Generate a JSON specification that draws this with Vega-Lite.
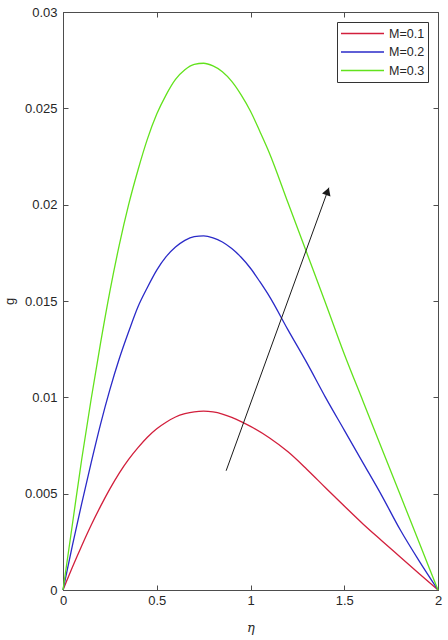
{
  "$schema": "https://vega.github.io/schema/vega-lite/v6.json",
  "width": 375,
  "height": 578,
  "autosize": {"type": "none"},
  "padding": {"left": 63, "top": 12, "right": 10, "bottom": 50},
  "background": "white",
  "config": {
    "view": {"stroke": "#4d4d4d", "strokeWidth": 1},
    "font": "Liberation Sans",
    "axis": {
      "grid": false,
      "domainColor": "#4d4d4d",
      "tickColor": "#4d4d4d",
      "labelColor": "#262626",
      "titleColor": "#262626",
      "labelFontSize": 13,
      "labelFont": "Liberation Sans",
      "tickSize": -5,
      "labelFlush": false
    }
  },
  "datasets": {
    "curves": [
      {"M": "M=0.1", "eta": 0, "g": 0},
      {"M": "M=0.1", "eta": 0.05, "g": 0.00118},
      {"M": "M=0.1", "eta": 0.1, "g": 0.0023},
      {"M": "M=0.1", "eta": 0.15, "g": 0.00336},
      {"M": "M=0.1", "eta": 0.2, "g": 0.00434},
      {"M": "M=0.1", "eta": 0.25, "g": 0.00525},
      {"M": "M=0.1", "eta": 0.3, "g": 0.00607},
      {"M": "M=0.1", "eta": 0.35, "g": 0.00678},
      {"M": "M=0.1", "eta": 0.4, "g": 0.00739},
      {"M": "M=0.1", "eta": 0.45, "g": 0.00793},
      {"M": "M=0.1", "eta": 0.5, "g": 0.00837},
      {"M": "M=0.1", "eta": 0.55, "g": 0.00871},
      {"M": "M=0.1", "eta": 0.6, "g": 0.00898},
      {"M": "M=0.1", "eta": 0.65, "g": 0.00915},
      {"M": "M=0.1", "eta": 0.7, "g": 0.00925},
      {"M": "M=0.1", "eta": 0.75, "g": 0.00928},
      {"M": "M=0.1", "eta": 0.8, "g": 0.00924},
      {"M": "M=0.1", "eta": 0.85, "g": 0.00913},
      {"M": "M=0.1", "eta": 0.9, "g": 0.00896},
      {"M": "M=0.1", "eta": 0.95, "g": 0.00874},
      {"M": "M=0.1", "eta": 1.0, "g": 0.00849},
      {"M": "M=0.1", "eta": 1.1, "g": 0.0079},
      {"M": "M=0.1", "eta": 1.2, "g": 0.00717},
      {"M": "M=0.1", "eta": 1.3, "g": 0.00627},
      {"M": "M=0.1", "eta": 1.4, "g": 0.00531},
      {"M": "M=0.1", "eta": 1.5, "g": 0.00436},
      {"M": "M=0.1", "eta": 1.6, "g": 0.00343},
      {"M": "M=0.1", "eta": 1.7, "g": 0.00256},
      {"M": "M=0.1", "eta": 1.8, "g": 0.0017},
      {"M": "M=0.1", "eta": 1.9, "g": 0.00084},
      {"M": "M=0.1", "eta": 2.0, "g": 0},
      {"M": "M=0.2", "eta": 0, "g": 0},
      {"M": "M=0.2", "eta": 0.05, "g": 0.0023},
      {"M": "M=0.2", "eta": 0.1, "g": 0.0045},
      {"M": "M=0.2", "eta": 0.15, "g": 0.0066},
      {"M": "M=0.2", "eta": 0.2, "g": 0.0086},
      {"M": "M=0.2", "eta": 0.25, "g": 0.0104},
      {"M": "M=0.2", "eta": 0.3, "g": 0.0120},
      {"M": "M=0.2", "eta": 0.35, "g": 0.0134},
      {"M": "M=0.2", "eta": 0.4, "g": 0.0147},
      {"M": "M=0.2", "eta": 0.45, "g": 0.0157},
      {"M": "M=0.2", "eta": 0.5, "g": 0.0166},
      {"M": "M=0.2", "eta": 0.55, "g": 0.0173},
      {"M": "M=0.2", "eta": 0.6, "g": 0.0178},
      {"M": "M=0.2", "eta": 0.65, "g": 0.01815},
      {"M": "M=0.2", "eta": 0.7, "g": 0.01834},
      {"M": "M=0.2", "eta": 0.75, "g": 0.01838},
      {"M": "M=0.2", "eta": 0.8, "g": 0.01828},
      {"M": "M=0.2", "eta": 0.85, "g": 0.01806},
      {"M": "M=0.2", "eta": 0.9, "g": 0.01772},
      {"M": "M=0.2", "eta": 0.95, "g": 0.01727},
      {"M": "M=0.2", "eta": 1.0, "g": 0.0167},
      {"M": "M=0.2", "eta": 1.05, "g": 0.01600},
      {"M": "M=0.2", "eta": 1.1, "g": 0.01525},
      {"M": "M=0.2", "eta": 1.2, "g": 0.0135},
      {"M": "M=0.2", "eta": 1.3, "g": 0.0118},
      {"M": "M=0.2", "eta": 1.4, "g": 0.0100},
      {"M": "M=0.2", "eta": 1.5, "g": 0.0083},
      {"M": "M=0.2", "eta": 1.6, "g": 0.0066},
      {"M": "M=0.2", "eta": 1.7, "g": 0.0049},
      {"M": "M=0.2", "eta": 1.8, "g": 0.0031},
      {"M": "M=0.2", "eta": 1.9, "g": 0.0015},
      {"M": "M=0.2", "eta": 2.0, "g": 0},
      {"M": "M=0.3", "eta": 0, "g": 0},
      {"M": "M=0.3", "eta": 0.05, "g": 0.0034},
      {"M": "M=0.3", "eta": 0.1, "g": 0.0068},
      {"M": "M=0.3", "eta": 0.15, "g": 0.0099},
      {"M": "M=0.3", "eta": 0.2, "g": 0.0128},
      {"M": "M=0.3", "eta": 0.25, "g": 0.0155},
      {"M": "M=0.3", "eta": 0.3, "g": 0.0179},
      {"M": "M=0.3", "eta": 0.35, "g": 0.0200},
      {"M": "M=0.3", "eta": 0.4, "g": 0.0218},
      {"M": "M=0.3", "eta": 0.45, "g": 0.0234},
      {"M": "M=0.3", "eta": 0.5, "g": 0.0247},
      {"M": "M=0.3", "eta": 0.55, "g": 0.0257},
      {"M": "M=0.3", "eta": 0.6, "g": 0.0265},
      {"M": "M=0.3", "eta": 0.65, "g": 0.0270},
      {"M": "M=0.3", "eta": 0.7, "g": 0.02728},
      {"M": "M=0.3", "eta": 0.75, "g": 0.02734},
      {"M": "M=0.3", "eta": 0.8, "g": 0.0272},
      {"M": "M=0.3", "eta": 0.85, "g": 0.0269},
      {"M": "M=0.3", "eta": 0.9, "g": 0.0264},
      {"M": "M=0.3", "eta": 0.95, "g": 0.0257},
      {"M": "M=0.3", "eta": 1.0, "g": 0.02485},
      {"M": "M=0.3", "eta": 1.05, "g": 0.0238},
      {"M": "M=0.3", "eta": 1.1, "g": 0.0227},
      {"M": "M=0.3", "eta": 1.2, "g": 0.0201},
      {"M": "M=0.3", "eta": 1.3, "g": 0.0175},
      {"M": "M=0.3", "eta": 1.4, "g": 0.0149},
      {"M": "M=0.3", "eta": 1.5, "g": 0.01225},
      {"M": "M=0.3", "eta": 1.6, "g": 0.0098},
      {"M": "M=0.3", "eta": 1.7, "g": 0.00735},
      {"M": "M=0.3", "eta": 1.8, "g": 0.0049},
      {"M": "M=0.3", "eta": 1.9, "g": 0.00245},
      {"M": "M=0.3", "eta": 2.0, "g": 0}
    ],
    "arrow": [
      {"x0": 0.870, "y0": 0.00619, "x1": 1.418, "y1": 0.02088, "hx": 1.411, "hy": 0.02069}
    ]
  },
  "layer": [
    {
      "data": {"name": "curves"},
      "mark": {"type": "line", "strokeWidth": 1.3, "interpolate": "monotone"},
      "encoding": {
        "x": {
          "field": "eta", "type": "quantitative",
          "scale": {"domain": [0, 2], "nice": false},
          "axis": {"orient": "bottom", "values": [0, 0.5, 1, 1.5, 2], "format": "~g", "labelPadding": 9, "title": "η", "titleFont": "DejaVu Serif", "titleFontStyle": "italic", "titleFontWeight": "normal", "titleFontSize": 13, "titlePadding": 14}
        },
        "y": {
          "field": "g", "type": "quantitative",
          "scale": {"domain": [0, 0.03], "nice": false, "zero": true},
          "axis": {"orient": "left", "values": [0, 0.005, 0.01, 0.015, 0.02, 0.025, 0.03], "format": "~g", "labelPadding": 11, "title": "g", "titleFont": "Liberation Sans", "titleFontWeight": "normal", "titleFontSize": 13, "titlePadding": 8}
        },
        "color": {
          "field": "M", "type": "nominal",
          "scale": {"domain": ["M=0.1", "M=0.2", "M=0.3"], "range": ["#d21f3c", "#2a2ac8", "#62e21c"]},
          "legend": {
            "title": null,
            "orient": "top-right",
            "offset": 10,
            "padding": 3,
            "strokeColor": "#333333",
            "fillColor": "white",
            "symbolType": "stroke",
            "symbolSize": 1850,
            "symbolStrokeWidth": 1.5,
            "labelFontSize": 12.5,
            "labelColor": "#262626",
            "labelOffset": 4,
            "clipHeight": 17,
            "rowPadding": 1.5
          }
        }
      }
    },
    {
      "data": {"name": "arrow"},
      "mark": {"type": "rule", "color": "#1a1a1a", "strokeWidth": 1},
      "encoding": {
        "x": {"field": "x0", "type": "quantitative", "axis": {"orient": "top", "values": [0, 0.5, 1, 1.5, 2], "labels": false, "title": null, "domain": false}},
        "y": {"field": "y0", "type": "quantitative", "axis": {"orient": "right", "values": [0, 0.005, 0.01, 0.015, 0.02, 0.025, 0.03], "labels": false, "title": null, "domain": false}},
        "x2": {"field": "x1"},
        "y2": {"field": "y1"}
      }
    },
    {
      "data": {"name": "arrow"},
      "mark": {"type": "point", "shape": "triangle-up", "filled": true, "color": "#1a1a1a", "opacity": 1, "size": 80, "angle": 19.7},
      "encoding": {
        "x": {"field": "hx", "type": "quantitative", "axis": null},
        "y": {"field": "hy", "type": "quantitative", "axis": null}
      }
    }
  ],
  "resolve": {"axis": {"x": "independent", "y": "independent"}}
}
